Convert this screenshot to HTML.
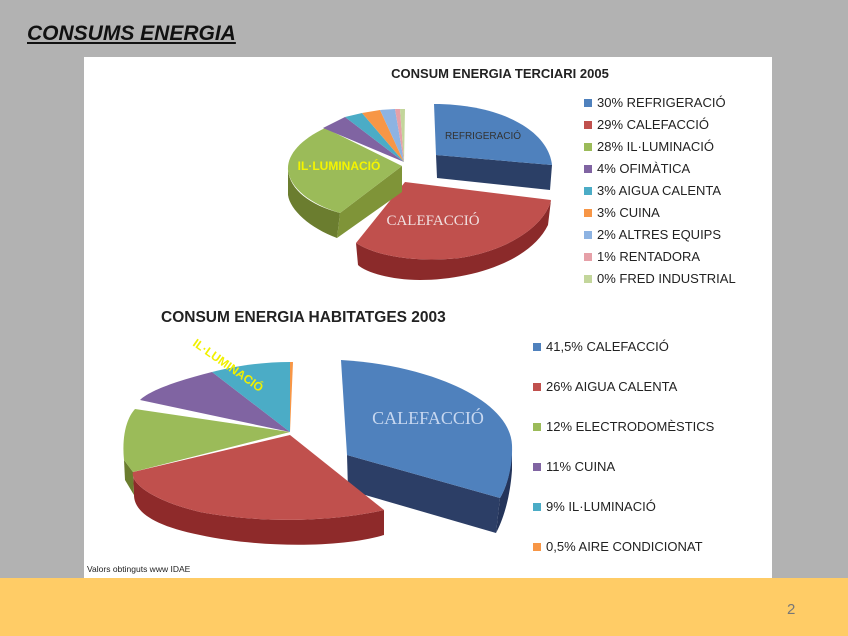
<!DOCTYPE html>
<html><head><meta charset="utf-8"><style>
body{margin:0;width:848px;height:636px;background:#b2b2b2;position:relative;overflow:hidden;font-family:"Liberation Sans",sans-serif}
.t{position:absolute;left:27px;top:22px;font-size:21px;font-weight:bold;font-style:italic;text-decoration:underline;color:#111}
.band{position:absolute;left:0;top:578px;width:848px;height:58px;background:#ffcc66}
.pg{position:absolute;left:787px;top:601px;font-size:15px;color:#777}
svg{position:absolute;left:84px;top:57px}
</style></head><body>
<div class="t">CONSUMS ENERGIA</div>
<div class="band"></div>
<div class="pg">2</div>
<svg width="688" height="521" viewBox="84 57 688 521" font-family="Liberation Sans, sans-serif">
<rect x="84" y="57" width="688" height="521" fill="#fff"/>
<text x="500" y="78" text-anchor="middle" font-size="13" font-weight="bold" fill="#222">CONSUM ENERGIA TERCIARI 2005</text>
<path d="M436,155 L552,165 L550,190 L437,178 Z" fill="#2b3f66"/>
<path d="M434,104 C500,104 548,130 552,165 L436,155 Z" fill="#4f81bd"/>
<path d="M356,243 C380,258 420,262 460,258 C510,250 545,225 551,200 L548,225 C530,262 470,280 420,280 C390,280 365,272 358,265 Z" fill="#8b2a2a"/>
<path d="M405,182 L551,200 C545,225 510,250 460,258 C420,262 380,258 356,243 Z" fill="#c0504d"/>
<path d="M340,213 L402,166 L402,192 L337,238 Z" fill="#7f9438"/>
<path d="M288,170 C290,190 310,205 340,213 L337,238 C310,228 290,210 288,195 Z" fill="#6b7d2f"/>
<path d="M402,166 L325,128 C300,140 287,155 288,170 C290,188 310,204 340,213 Z" fill="#9bbb59"/>
<path d="M404,162 L323,128 L345,117 Z" fill="#8064a2"/>
<path d="M404,162 L345,117 L362,113 Z" fill="#4bacc6"/>
<path d="M404,162 L362,113 L380,110 Z" fill="#f79646"/>
<path d="M404,162 L380,110 L395,109 Z" fill="#8db3e2"/>
<path d="M404,162 L395,109 L400,109 Z" fill="#e6a0a8"/>
<path d="M404,162 L400,109 L405,109 Z" fill="#c3d69b"/>
<text x="483" y="139" text-anchor="middle" font-size="10" fill="#333">REFRIGERACIÓ</text>
<text x="339" y="170" text-anchor="middle" font-size="12" font-weight="bold" fill="#f5f500">IL·LUMINACIÓ</text>
<text x="433" y="225" text-anchor="middle" font-size="15" font-family="Liberation Serif, serif" fill="#f0e0e0">CALEFACCIÓ</text>
<g font-size="13" fill="#222">
<rect x="584" y="99" width="8" height="8" fill="#4f81bd"/><text x="597" y="107">30% REFRIGERACIÓ</text>
<rect x="584" y="121" width="8" height="8" fill="#c0504d"/><text x="597" y="129">29% CALEFACCIÓ</text>
<rect x="584" y="143" width="8" height="8" fill="#9bbb59"/><text x="597" y="151">28% IL·LUMINACIÓ</text>
<rect x="584" y="165" width="8" height="8" fill="#8064a2"/><text x="597" y="173">4%  OFIMÀTICA</text>
<rect x="584" y="187" width="8" height="8" fill="#4bacc6"/><text x="597" y="195">3%  AIGUA CALENTA</text>
<rect x="584" y="209" width="8" height="8" fill="#f79646"/><text x="597" y="217">3%  CUINA</text>
<rect x="584" y="231" width="8" height="8" fill="#8db3e2"/><text x="597" y="239">2%  ALTRES EQUIPS</text>
<rect x="584" y="253" width="8" height="8" fill="#e6a0a8"/><text x="597" y="261">1%  RENTADORA</text>
<rect x="584" y="275" width="8" height="8" fill="#c3d69b"/><text x="597" y="283">0%  FRED INDUSTRIAL</text>
</g>
<text x="161" y="322" font-size="15.5" font-weight="bold" fill="#222">CONSUM ENERGIA HABITATGES 2003</text>
<path d="M347,455 L500,498 L496,533 L348,490 Z" fill="#2c3e66"/>
<path d="M500,498 C506,488 512,470 512,445 L512,470 C510,500 502,522 496,533 Z" fill="#24345a"/>
<path d="M341,360 C430,365 510,400 512,445 C513,470 505,490 500,498 L347,455 Z" fill="#4f81bd"/>
<path d="M133,472 C130,482 150,500 200,512 C270,525 340,520 384,510 L384,535 C340,548 260,548 200,535 C150,525 134,510 134,495 Z" fill="#8e2a2a"/>
<path d="M124,460 L133,472 L134,495 L125,480 Z" fill="#6b7d2f"/>
<path d="M290,435 L384,510 C340,520 270,525 200,512 C150,500 130,482 133,472 Z" fill="#c0504d"/>
<path d="M290,432 L135,409 C125,420 122,440 124,460 L133,472 Z" fill="#9bbb59"/>
<path d="M290,432 L140,400 C150,390 180,380 212,372 Z" fill="#8064a2"/>
<path d="M290,432 L212,372 C240,365 265,362 290,362 Z" fill="#4bacc6"/>
<path d="M290,432 L290,362 L293,362 Z" fill="#f79646"/>
<text x="428" y="424" text-anchor="middle" font-size="18" font-family="Liberation Serif, serif" fill="#c8d8f0">CALEFACCIÓ</text>
<text x="0" y="0" font-size="12" font-weight="bold" fill="#f0f000" transform="translate(192,345) rotate(35)">IL·LUMINACIÓ</text>
<g font-size="13" fill="#222">
<rect x="533" y="343" width="8" height="8" fill="#4f81bd"/><text x="546" y="351">41,5% CALEFACCIÓ</text>
<rect x="533" y="383" width="8" height="8" fill="#c0504d"/><text x="546" y="391">26% AIGUA CALENTA</text>
<rect x="533" y="423" width="8" height="8" fill="#9bbb59"/><text x="546" y="431">12% ELECTRODOMÈSTICS</text>
<rect x="533" y="463" width="8" height="8" fill="#8064a2"/><text x="546" y="471">11% CUINA</text>
<rect x="533" y="503" width="8" height="8" fill="#4bacc6"/><text x="546" y="511">9%  IL·LUMINACIÓ</text>
<rect x="533" y="543" width="8" height="8" fill="#f79646"/><text x="546" y="551">0,5%  AIRE CONDICIONAT</text>
</g>
<text x="87" y="572" font-size="8.5" fill="#222">Valors obtinguts www IDAE</text>
</svg>
</body></html>
